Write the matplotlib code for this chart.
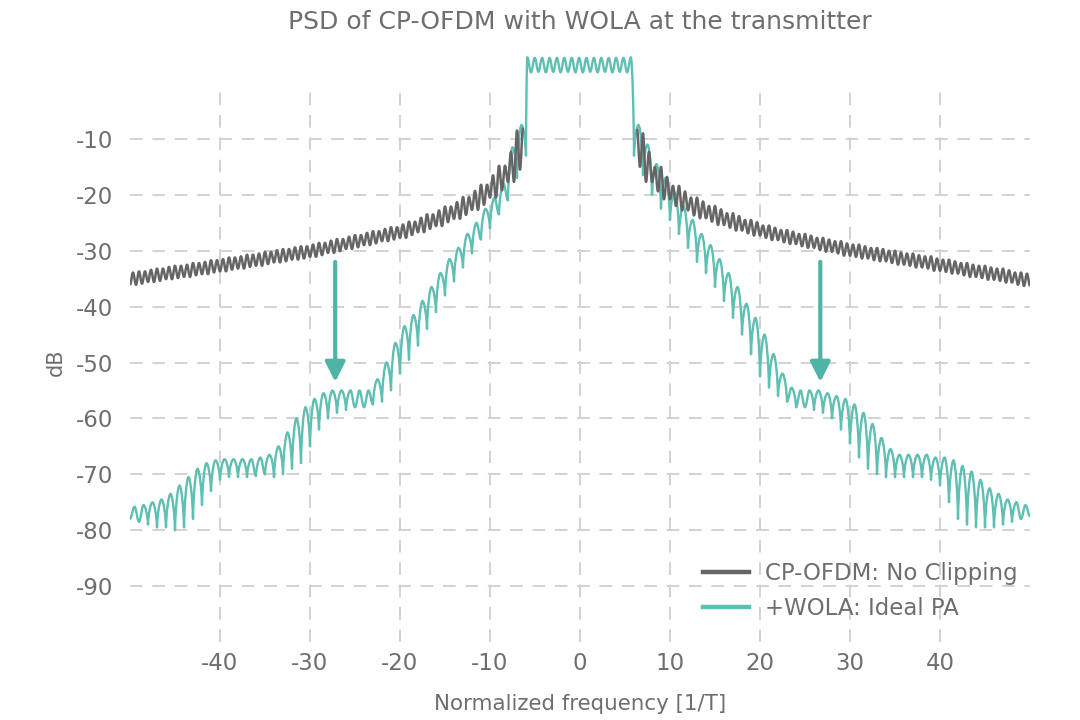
import numpy as np
import matplotlib
matplotlib.use("Agg")
import matplotlib.pyplot as plt
from matplotlib.patches import ArrowStyle, PathPatch
from matplotlib.path import Path
from matplotlib.lines import Line2D

# ---------------- data ----------------
x_ticks = [-40, -30, -20, -10, 0, 10, 20, 30, 40]
y_ticks = [-90, -80, -70, -60, -50, -40, -30, -20, -10]

# CP-OFDM (no clipping) sidelobes: ripple vertices (peak / trough), 3 per unit frequency
grey_left_span = (-50.0, -6.333)
grey_left = [
    -36.1, -33.9, -36.1, -33.7, -35.9, -33.7, -35.6, -33.4, -35.6, -33.2, -35.4, -33.2,
    -35.1, -32.9, -35.1, -32.7, -34.9, -32.7, -34.7, -32.5, -34.7, -32.2, -34.4, -32.2,
    -34.2, -32.0, -34.2, -31.7, -33.9, -31.7, -33.7, -31.5, -33.7, -31.2, -33.4, -31.2,
    -33.2, -31.0, -33.2, -30.7, -32.9, -30.7, -32.7, -30.5, -32.7, -30.2, -32.4, -30.2,
    -32.1, -29.9, -32.1, -29.7, -31.9, -29.7, -31.6, -29.4, -31.6, -29.2, -31.4, -29.2,
    -31.1, -28.9, -31.1, -28.6, -30.8, -28.6, -30.4, -28.2, -30.4, -27.9, -30.1, -27.9,
    -29.7, -27.5, -29.7, -27.2, -29.4, -27.2, -29.0, -26.8, -29.0, -26.5, -28.7, -26.5,
    -28.3, -26.1, -28.3, -25.8, -28.0, -25.8, -27.7, -25.3, -27.7, -24.8, -27.2, -24.8,
    -26.7, -24.1, -26.7, -23.5, -26.1, -23.5, -25.6, -22.8, -25.6, -22.1, -24.9, -22.1,
    -24.3, -21.3, -24.3, -20.4, -23.6, -20.4, -22.7, -19.3, -22.7, -18.2, -21.8, -18.2,
    -20.5, -16.5, -20.5, -14.8, -19.2, -14.8, -17.7, -12.3, -17.7, -8.5, -15.5, -8.0,
]
grey_right_span = (6.333, 50.0)
grey_right = [
    -8.2, -15.0, -9.0, -17.7, -12.3, -17.7, -15.0, -19.4, -15.0, -20.8, -16.8, -20.8,
    -18.4, -22.0, -18.4, -22.8, -19.4, -22.8, -20.5, -23.7, -20.5, -24.2, -21.2, -24.2,
    -22.0, -24.8, -22.0, -25.4, -22.6, -25.4, -23.3, -25.9, -23.3, -26.4, -23.8, -26.4,
    -24.5, -26.9, -24.5, -27.3, -24.9, -27.3, -25.5, -27.7, -25.5, -28.1, -25.9, -28.1,
    -26.3, -28.5, -26.3, -28.8, -26.6, -28.8, -27.0, -29.2, -27.0, -29.5, -27.3, -29.5,
    -27.7, -29.9, -27.7, -30.2, -28.0, -30.2, -28.3, -30.5, -28.3, -30.9, -28.7, -30.9,
    -28.9, -31.1, -28.9, -31.4, -29.2, -31.4, -29.5, -31.7, -29.5, -31.9, -29.7, -31.9,
    -30.0, -32.2, -30.0, -32.5, -30.3, -32.5, -30.5, -32.7, -30.5, -33.0, -30.8, -33.0,
    -31.0, -33.2, -31.0, -33.6, -31.4, -33.6, -31.6, -33.8, -31.6, -34.1, -31.9, -34.1,
    -32.2, -34.4, -32.2, -34.7, -32.5, -34.7, -32.7, -34.9, -32.7, -35.2, -33.0, -35.2,
    -33.2, -35.4, -33.2, -35.7, -33.5, -35.7, -33.9, -36.1, -33.9, -36.3, -34.1, -36.3,
]

# +WOLA (ideal PA): ripple vertices, 2 per unit frequency (trough, peak)
teal_left_span = (-50.0, -6.0)
teal_left = [
    -78.0, -75.8, -78.5, -75.5, -79.0, -75.0, -79.5, -74.5, -79.5, -73.5,
    -80.0, -72.0, -79.5, -70.5, -78.0, -69.0, -75.5, -68.0, -73.0, -67.5,
    -71.0, -67.3, -70.5, -67.3, -70.5, -67.3, -70.5, -67.3, -70.3, -67.0,
    -70.0, -66.5, -70.5, -65.0, -70.0, -62.5, -69.0, -60.0, -68.0, -58.0,
    -65.0, -56.5, -62.0, -55.5, -60.0, -55.0, -59.0, -55.0, -58.5, -55.0,
    -58.0, -55.0, -58.0, -55.0, -57.5, -53.0, -57.0, -50.0, -55.0, -46.5,
    -52.0, -43.5, -49.5, -41.5, -47.0, -39.0, -44.0, -36.5, -41.0, -34.0,
    -38.0, -31.5, -35.5, -29.5, -33.0, -27.0, -30.5, -25.0, -28.0, -22.5,
    -26.0, -20.5, -23.5, -18.0, -21.0, -11.5, -17.0, -7.5, -13.0,
]
teal_pass_span = (-5.85, 5.65)
teal_pass = [
    4.6, 1.9, 4.5, 2.0, 4.5, 1.9, 4.5, 2.0, 4.5, 1.9, 4.5, 2.0, 4.5, 1.9, 4.5,
    1.9, 4.5, 2.0, 4.5, 1.9, 4.5, 2.0, 4.5, 1.9, 4.5, 2.0, 4.5, 1.9, 4.6,
]
teal_right_span = (6.0, 50.0)
teal_right = [
    -13.0, -7.5, -16.5, -11.0, -20.0, -14.5, -22.5, -17.0, -24.5, -19.5,
    -27.0, -22.0, -29.5, -24.5, -32.0, -27.0, -34.0, -29.0, -36.5, -31.5,
    -39.0, -34.0, -42.0, -36.5, -45.0, -39.5, -48.5, -42.0, -52.5, -45.0,
    -54.5, -48.5, -56.0, -52.0, -57.0, -54.5, -58.0, -55.0, -58.0, -55.0,
    -58.5, -55.0, -59.0, -55.5, -60.0, -56.0, -62.0, -56.5, -64.5, -57.5,
    -67.0, -59.0, -69.0, -61.0, -70.0, -63.5, -70.5, -65.5, -70.5, -66.5,
    -70.5, -66.5, -70.5, -66.5, -70.5, -66.5, -71.0, -67.0, -72.0, -67.0,
    -75.0, -67.5, -78.0, -68.5, -79.0, -69.5, -79.5, -71.0, -79.5, -72.5,
    -79.5, -73.5, -79.0, -74.5, -78.5, -75.0, -78.0, -75.5, -77.5,
]

# annotation arrows: frequency, start dB, end dB
arrow_freqs = [-27.2, 26.7]
arrow_from = [-32.0, -32.0]
arrow_to = [-53.5, -53.5]

labels = ["CP-OFDM: No Clipping", "+WOLA: Ideal PA"]

# ---------------- styling ----------------
GREY = "#656565"
TEAL = "#5fbfb3"
ARROW = "#4fb3a6"
TEXT = "#6e6e6e"
GRID = "#d2d2d2"
plt.rcParams["font.family"] = ["DejaVu Sans"]
plt.rcParams["axes.unicode_minus"] = False

fig = plt.figure(figsize=(10.8, 7.2), dpi=100)
ax = fig.add_axes([130 / 1080, 1 - 642 / 720, 900 / 1080, 559 / 720])
ax.set_xlim(-50, 50)
ax.set_ylim(-100, 0)


def seg(span, vals):
    return np.linspace(span[0], span[1], len(vals)), np.asarray(vals, dtype=float)


def ripple_path(xs, ys, sharp_db=3.0):
    """Smooth ripple through the read extrema (Bezier joins, horizontal tangents
    at extrema; deep notches are drawn with a steep approach)."""
    verts = [(xs[0], ys[0])]
    codes = [Path.MOVETO]
    for x0, y0, x1, y1 in zip(xs[:-1], ys[:-1], xs[1:], ys[1:]):
        dx, dy = x1 - x0, y1 - y0
        if abs(dy) > sharp_db:
            if dy > 0:   # rising out of a notch
                c1 = (x0 + 0.06 * dx, y0 + 0.45 * dy)
                c2 = (x1 - 0.40 * dx, y1)
            else:        # falling into a notch
                c1 = (x0 + 0.40 * dx, y0)
                c2 = (x1 - 0.06 * dx, y1 - 0.45 * dy)
        else:
            c1 = (x0 + 0.36 * dx, y0)
            c2 = (x1 - 0.36 * dx, y1)
        verts += [c1, c2, (x1, y1)]
        codes += [Path.CURVE4] * 3
    return Path(verts, codes)


tl = seg(teal_left_span, teal_left)
tp = seg(teal_pass_span, teal_pass)
tr = seg(teal_right_span, teal_right)
tx = np.concatenate([tl[0], tp[0], tr[0]])
ty = np.concatenate([tl[1], tp[1], tr[1]])
ax.add_patch(PathPatch(ripple_path(tx, ty, sharp_db=3.0), fill=False, edgecolor=TEAL,
                       lw=1.7, zorder=3, clip_on=False, joinstyle="round"))

for span, vals in [(grey_left_span, grey_left), (grey_right_span, grey_right)]:
    gx, gy = seg(span, vals)
    ax.add_patch(PathPatch(ripple_path(gx, gy, sharp_db=99), fill=False, edgecolor=GREY,
                           lw=1.8, zorder=4, joinstyle="round"))

style = ArrowStyle("-|>", head_length=0.6, head_width=0.3)
for f, a, b in zip(arrow_freqs, arrow_from, arrow_to):
    ax.annotate("", xy=(f, b), xytext=(f, a),
                arrowprops=dict(arrowstyle=style, mutation_scale=20, lw=3.0,
                                color=ARROW, shrinkA=0, shrinkB=0), zorder=5)

ax.set_xticks(x_ticks)
ax.set_yticks(y_ticks)
ax.tick_params(length=0, labelsize=16.5, labelcolor=TEXT)
ax.tick_params(axis="y", pad=12)
ax.tick_params(axis="x", pad=7)
for s in ax.spines.values():
    s.set_visible(False)
ax.set_axisbelow(True)
ax.grid(True, color=GRID, lw=1.4, linestyle=(0, (6.5, 5.0)))

ax.set_xlabel("Normalized frequency [1/T]", fontsize=15.4, color=TEXT)
ax.xaxis.set_label_coords(0.5, -0.093)
ax.xaxis.label.set_va("top")
ax.set_ylabel("dB", fontsize=15, color=TEXT)
ax.yaxis.set_label_coords(-0.071, 0.5)

fig.text(580 / 1080, 1 - 22 / 720, "PSD of CP-OFDM with WOLA at the transmitter",
         ha="center", va="center", fontsize=18, color=TEXT)

handles = [Line2D([], [], color=GREY, lw=3.2), Line2D([], [], color=TEAL, lw=3.2)]
leg = ax.legend(handles, labels, loc="upper left", bbox_to_anchor=((703 - 130) / 900, 0.143),
                frameon=False, fontsize=16.5, handlelength=2.0, handletextpad=0.7,
                labelspacing=0.5, borderpad=0, borderaxespad=0)
for t in leg.get_texts():
    t.set_color(TEXT)

fig.savefig("out.png", dpi=100)
